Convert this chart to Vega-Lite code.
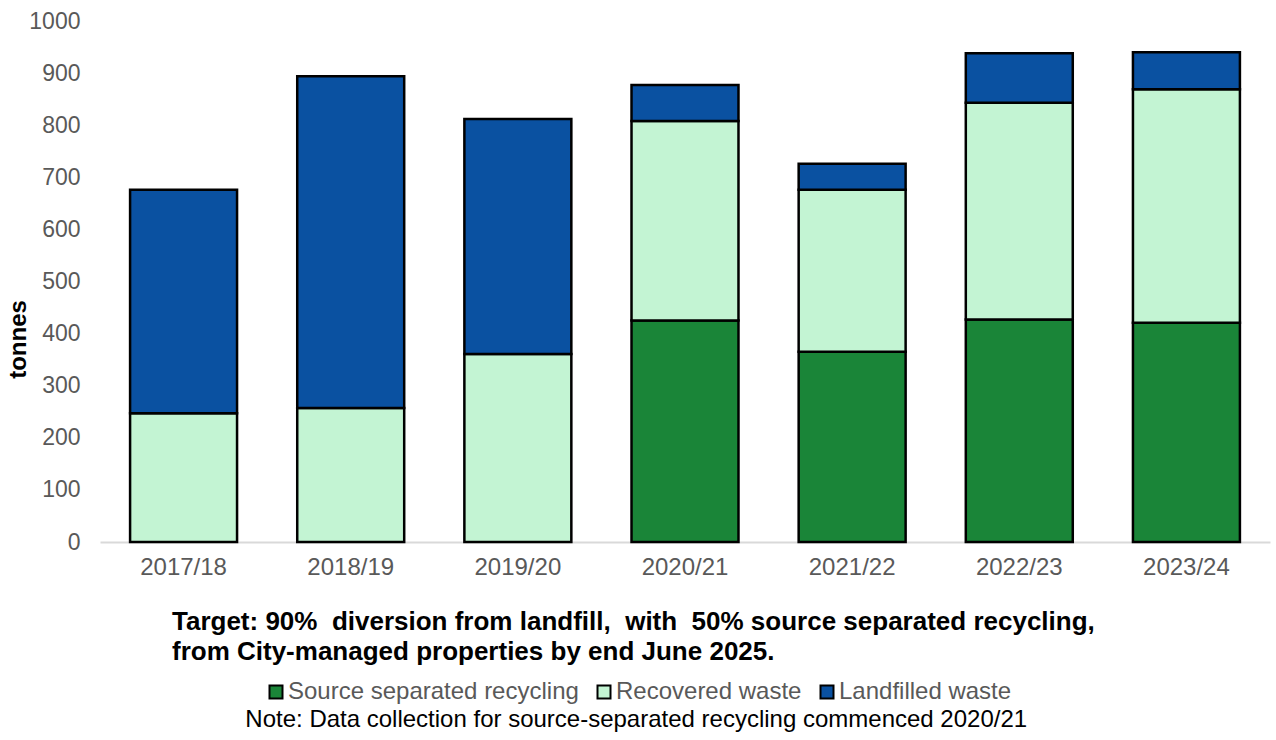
{
  "$schema": "https://vega.github.io/schema/vega-lite/v6.json",
  "autosize": "none",
  "width": 1170,
  "height": 521,
  "padding": {"left": 100, "top": 21, "right": 6, "bottom": 198},
  "background": "white",
  "config": {
    "font": "Liberation Sans",
    "view": {"stroke": null}
  },
  "title": {
    "text": ["Target: 90%\u00a0 diversion from landfill,\u00a0 with\u00a0 50% source separated recycling,", "from City-managed properties by end June 2025."],
    "subtitle": "\u200b\u00a0\u00a0\u00a0\u00a0\u00a0\u00a0\u00a0\u00a0\u00a0\u00a0\u00a0Note: Data collection for source-separated recycling commenced 2020/21",
    "orient": "bottom",
    "anchor": "start",
    "frame": "group",
    "align": "left",
    "dx": 72,
    "offset": -95,
    "font": "Liberation Sans",
    "fontSize": 26,
    "fontWeight": "bold",
    "color": "black",
    "lineHeight": 30,
    "subtitleFont": "Liberation Sans",
    "subtitleFontSize": 24,
    "subtitleColor": "black",
    "subtitlePadding": 43
  },
  "data": {
    "values": [
      {"year": "2017/18", "type": "Recovered waste", "ord": 2, "tonnes": 247},
      {"year": "2017/18", "type": "Landfilled waste", "ord": 3, "tonnes": 429},
      {"year": "2018/19", "type": "Recovered waste", "ord": 2, "tonnes": 257},
      {"year": "2018/19", "type": "Landfilled waste", "ord": 3, "tonnes": 637},
      {"year": "2019/20", "type": "Recovered waste", "ord": 2, "tonnes": 361},
      {"year": "2019/20", "type": "Landfilled waste", "ord": 3, "tonnes": 451},
      {"year": "2020/21", "type": "Source separated recycling", "ord": 1, "tonnes": 425},
      {"year": "2020/21", "type": "Recovered waste", "ord": 2, "tonnes": 383},
      {"year": "2020/21", "type": "Landfilled waste", "ord": 3, "tonnes": 69},
      {"year": "2021/22", "type": "Source separated recycling", "ord": 1, "tonnes": 365},
      {"year": "2021/22", "type": "Recovered waste", "ord": 2, "tonnes": 311},
      {"year": "2021/22", "type": "Landfilled waste", "ord": 3, "tonnes": 50},
      {"year": "2022/23", "type": "Source separated recycling", "ord": 1, "tonnes": 427},
      {"year": "2022/23", "type": "Recovered waste", "ord": 2, "tonnes": 416},
      {"year": "2022/23", "type": "Landfilled waste", "ord": 3, "tonnes": 95},
      {"year": "2023/24", "type": "Source separated recycling", "ord": 1, "tonnes": 421},
      {"year": "2023/24", "type": "Recovered waste", "ord": 2, "tonnes": 448},
      {"year": "2023/24", "type": "Landfilled waste", "ord": 3, "tonnes": 71}
    ]
  },
  "mark": {"type": "bar", "stroke": "black", "strokeWidth": 2.5},
  "encoding": {
    "x": {
      "field": "year",
      "type": "nominal",
      "scale": {"paddingInner": 0.36, "paddingOuter": 0.18},
      "axis": {
        "title": null,
        "labelAngle": 0,
        "labelFontSize": 24,
        "labelColor": "#595959",
        "labelPadding": 13,
        "ticks": false,
        "tickSize": 0,
        "domainColor": "#d9d9d9",
        "domainWidth": 2
      }
    },
    "y": {
      "field": "tonnes",
      "type": "quantitative",
      "stack": "zero",
      "scale": {"domain": [0, 1000], "nice": false},
      "axis": {
        "title": "tonnes",
        "titleFontSize": 24,
        "titleFontWeight": "bold",
        "titleColor": "black",
        "titleAngle": 270,
        "titleX": -82,
        "titleY": 318,
        "titleAlign": "center",
        "titleBaseline": "middle",
        "values": [0, 100, 200, 300, 400, 500, 600, 700, 800, 900, 1000],
        "format": "d",
        "labelFontSize": 23,
        "labelColor": "#595959",
        "labelPadding": 20,
        "grid": false,
        "domain": false,
        "ticks": false,
        "tickSize": 0
      }
    },
    "color": {
      "field": "type",
      "type": "nominal",
      "scale": {
        "domain": ["Source separated recycling", "Recovered waste", "Landfilled waste"],
        "range": ["#1a8538", "#c3f4d3", "#0a51a1"]
      },
      "legend": {
        "title": null,
        "orient": "none",
        "direction": "horizontal",
        "legendX": 164,
        "legendY": 659,
        "symbolType": "square",
        "symbolSize": 169,
        "symbolStrokeColor": "black",
        "symbolStrokeWidth": 2,
        "labelFontSize": 24,
        "labelColor": "#595959",
        "labelOffset": 0,
        "columnPadding": 13,
        "labelLimit": 400
      }
    },
    "order": {"field": "ord", "type": "quantitative"}
  }
}
